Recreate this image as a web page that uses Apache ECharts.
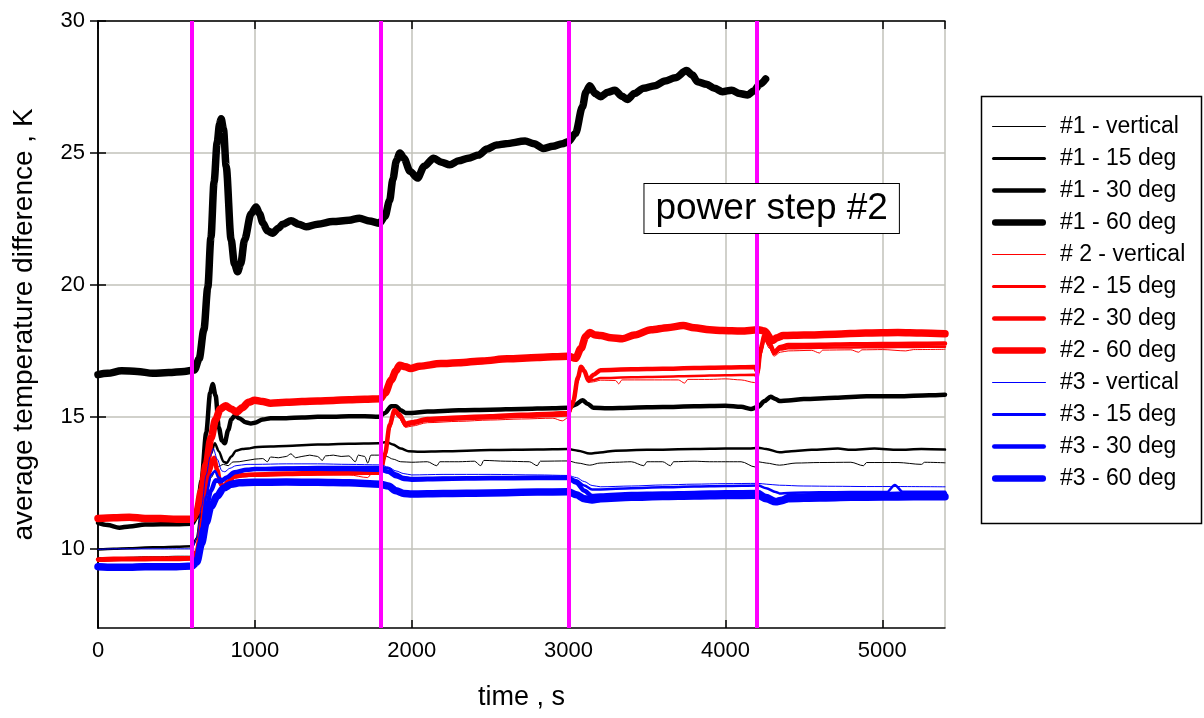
<!DOCTYPE html>
<html>
<head>
<meta charset="utf-8">
<title>average temperature difference</title>
<script src="https://cdn.jsdelivr.net/npm/echarts@6/dist/echarts.min.js"></script>
<style>
  html, body { margin: 0; padding: 0; background: #ffffff; }
  #chart { width: 1204px; height: 718px; }
</style>
</head>
<body>
<div id="chart"></div>
<script>
// time [s], temperature difference [K]
const STEP_TIMES = [600, 1800, 3000, 4200];
const Y_TICKS = [10, 15, 20, 25, 30];
const NOTE_TEXT = 'power step #2';
const NOTE_AT = [4295, 22.9];

const NAMES = [
  '#1 - vertical', '#1 - 15 deg', '#1 - 30 deg', '#1 - 60 deg',
  '# 2 - vertical', '#2 - 15 deg', '#2 - 30 deg', '#2 - 60 deg',
  '#3 - vertical', '#3 - 15 deg', '#3 - 30 deg', '#3 - 60 deg'
];

const S1_VERTICAL = [[0,9.67],[100,9.65],[200,9.68],[300,9.7],[400,9.7],[500,9.72],[600,9.72],[630,10.0],[660,11.0],[690,12.0],[720,12.7],[760,13.1],[800,13.2],[830,13.15],[860,13.29],[900,13.3],[950,13.35],[1000,13.4],[1050,13.42],[1080,13.3],[1100,13.48],[1150,13.45],[1200,13.5],[1230,13.6],[1260,13.45],[1300,13.5],[1350,13.55],[1400,13.5],[1430,13.35],[1450,13.52],[1500,13.55],[1550,13.5],[1600,13.52],[1640,13.3],[1660,13.55],[1700,13.5],[1720,13.25],[1740,13.55],[1790,13.55],[1840,13.5],[1880,13.4],[1930,13.3],[2000,13.28],[2100,13.3],[2160,13.15],[2180,13.3],[2300,13.3],[2400,13.32],[2440,13.15],[2460,13.35],[2600,13.32],[2750,13.3],[2800,13.15],[2820,13.32],[2998,13.33],[3060,13.25],[3135,13.17],[3200,13.25],[3300,13.28],[3400,13.3],[3480,13.15],[3500,13.3],[3600,13.3],[3650,13.15],[3670,13.3],[3800,13.32],[3900,13.3],[4000,13.3],[4100,13.3],[4190,13.1],[4209,13.3],[4260,13.25],[4345,13.17],[4450,13.25],[4600,13.27],[4800,13.28],[4880,13.15],[4900,13.27],[5100,13.27],[5250,13.2],[5270,13.28],[5400,13.26]];
const S1_15DEG = [[0,9.97],[100,10.0],[200,10.02],[300,10.05],[400,10.06],[500,10.08],[600,10.1],[630,10.4],[660,11.5],[690,12.8],[720,13.6],[745,14.0],[770,13.7],[800,13.3],[820,13.25],[850,13.5],[880,13.72],[920,13.78],[960,13.8],[1000,13.85],[1100,13.88],[1200,13.9],[1400,13.95],[1600,13.98],[1790,14.0],[1840,14.05],[1880,13.95],[1930,13.8],[1980,13.7],[2050,13.68],[2200,13.7],[2500,13.74],[2800,13.76],[2998,13.78],[3060,13.72],[3135,13.61],[3200,13.65],[3300,13.72],[3500,13.75],[3800,13.78],[4000,13.8],[4150,13.8],[4209,13.83],[4260,13.78],[4345,13.66],[4420,13.7],[4550,13.75],[4717,13.8],[4800,13.75],[4950,13.8],[5100,13.75],[5250,13.78],[5400,13.76]];
const S1_30DEG = [[0,10.98],[60,10.9],[136,10.8],[200,10.85],[300,10.92],[400,10.93],[500,10.93],[600,10.95],[630,11.2],[660,12.6],[690,14.4],[715,15.9],[731,16.25],[750,15.8],[770,14.6],[790,14.1],[808,14.0],[830,14.5],[850,14.9],[872,15.05],[900,14.95],[940,14.8],[975,14.75],[1000,14.78],[1050,14.9],[1100,14.95],[1200,14.95],[1300,14.98],[1400,15.0],[1500,15.0],[1600,15.02],[1700,15.02],[1790,15.0],[1830,15.15],[1870,15.4],[1900,15.4],[1930,15.25],[1960,15.15],[2000,15.15],[2100,15.2],[2300,15.25],[2500,15.27],[2700,15.3],[2900,15.33],[2998,15.35],[3040,15.45],[3089,15.63],[3120,15.5],[3158,15.35],[3250,15.33],[3400,15.35],[3600,15.37],[3800,15.4],[4000,15.42],[4100,15.38],[4163,15.3],[4209,15.38],[4250,15.6],[4288,15.76],[4320,15.68],[4345,15.6],[4400,15.62],[4500,15.68],[4700,15.72],[4900,15.78],[5100,15.78],[5300,15.82],[5400,15.84]];
const S1_60DEG = [[0,16.6],[60,16.65],[150,16.75],[250,16.72],[350,16.65],[450,16.68],[550,16.72],[615,16.78],[645,17.2],[675,18.3],[700,19.9],[720,21.8],[740,23.9],[760,25.4],[775,26.1],[785,26.3],[800,25.9],[817,24.5],[849,21.7],[870,20.8],[890,20.5],[910,20.8],[934,21.7],[976,22.7],[1008,22.95],[1030,22.7],[1051,22.35],[1080,22.05],[1113,21.96],[1150,22.15],[1178,22.3],[1231,22.43],[1280,22.3],[1327,22.2],[1400,22.3],[1497,22.4],[1600,22.45],[1667,22.53],[1730,22.42],[1795,22.34],[1830,22.6],[1859,23.2],[1880,24.0],[1902,24.7],[1925,25.0],[1950,24.8],[1990,24.3],[2037,24.05],[2080,24.5],[2140,24.8],[2190,24.65],[2242,24.55],[2300,24.7],[2360,24.8],[2426,24.92],[2480,25.15],[2541,25.3],[2600,25.35],[2723,25.45],[2780,25.35],[2838,25.17],[2900,25.25],[2960,25.35],[2998,25.42],[3044,25.74],[3089,26.75],[3110,27.3],[3135,27.55],[3170,27.25],[3204,27.13],[3250,27.3],[3295,27.38],[3340,27.15],[3375,27.03],[3420,27.25],[3478,27.45],[3550,27.55],[3615,27.73],[3680,27.85],[3752,28.12],[3790,27.95],[3821,27.7],[3880,27.6],[3930,27.45],[3981,27.32],[4040,27.38],[4090,27.25],[4142,27.2],[4180,27.35],[4220,27.6],[4256,27.8]];

const S2_VERTICAL = [[0,9.62],[100,9.63],[200,9.63],[300,9.64],[400,9.64],[500,9.65],[600,9.66],[630,9.95],[660,11.1],[690,12.4],[715,13.1],[740,13.4],[760,12.95],[780,12.45],[800,12.3],[830,12.5],[870,12.7],[920,12.72],[1000,12.75],[1200,12.78],[1400,12.8],[1600,12.8],[1720,12.7],[1740,12.82],[1800,12.82],[1830,13.4],[1860,14.5],[1890,15.15],[1920,14.95],[1960,14.6],[2000,14.65],[2100,14.78],[2300,14.83],[2500,14.88],[2700,14.92],[2900,14.95],[2960,14.85],[2998,14.97],[3030,15.4],[3060,16.3],[3080,16.8],[3100,16.65],[3125,16.3],[3160,16.33],[3204,16.39],[3300,16.38],[3320,16.25],[3340,16.4],[3500,16.4],[3700,16.4],[3740,16.28],[3760,16.42],[3900,16.42],[4000,16.44],[4100,16.4],[4186,16.3],[4205,16.4],[4225,17.3],[4250,17.9],[4280,17.6],[4310,17.3],[4350,17.45],[4400,17.5],[4550,17.52],[4600,17.42],[4620,17.53],[4800,17.54],[4850,17.45],[4870,17.54],[5000,17.55],[5150,17.5],[5200,17.55],[5400,17.56]];
const S2_15DEG = [[0,9.55],[100,9.56],[200,9.57],[300,9.57],[400,9.58],[500,9.58],[600,9.6],[630,9.85],[660,10.9],[690,12.1],[715,12.9],[740,13.3],[760,12.9],[780,12.4],[800,12.25],[830,12.45],[870,12.7],[920,12.75],[1000,12.78],[1200,12.8],[1400,12.82],[1600,12.83],[1800,12.85],[1830,13.5],[1860,14.6],[1890,15.2],[1920,15.0],[1960,14.65],[2000,14.72],[2100,14.85],[2300,14.9],[2500,14.95],[2700,15.0],[2900,15.03],[2998,15.05],[3030,15.5],[3060,16.4],[3080,16.85],[3100,16.7],[3125,16.35],[3160,16.4],[3204,16.47],[3400,16.5],[3600,16.52],[3800,16.55],[4000,16.58],[4186,16.6],[4205,16.45],[4225,17.4],[4250,17.95],[4280,17.7],[4310,17.38],[4350,17.55],[4400,17.6],[4600,17.62],[4800,17.63],[5000,17.64],[5200,17.65],[5400,17.66]];
const S2_30DEG = [[0,9.6],[100,9.62],[200,9.62],[300,9.63],[400,9.63],[500,9.64],[600,9.65],[630,9.9],[660,11.0],[690,12.3],[715,13.1],[740,13.45],[760,13.0],[780,12.5],[800,12.35],[830,12.55],[870,12.75],[920,12.8],[1000,12.82],[1200,12.85],[1400,12.87],[1600,12.88],[1800,12.9],[1830,13.6],[1860,14.7],[1890,15.25],[1920,15.1],[1960,14.75],[2000,14.8],[2100,14.92],[2300,14.98],[2500,15.02],[2700,15.08],[2900,15.12],[2998,15.15],[3030,15.6],[3060,16.5],[3080,16.9],[3100,16.75],[3125,16.4],[3160,16.6],[3204,16.77],[3400,16.8],[3600,16.82],[3800,16.85],[4000,16.87],[4186,16.89],[4205,16.7],[4225,17.6],[4250,18.1],[4280,17.8],[4310,17.45],[4350,17.65],[4400,17.72],[4600,17.73],[4800,17.75],[5000,17.76],[5200,17.77],[5400,17.78]];
const S2_60DEG = [[0,11.15],[100,11.18],[200,11.2],[300,11.15],[400,11.15],[500,11.12],[600,11.12],[630,11.4],[660,12.2],[690,13.2],[720,14.2],[750,14.9],[780,15.3],[813,15.42],[850,15.3],[883,15.18],[920,15.35],[960,15.55],[998,15.63],[1050,15.58],[1100,15.52],[1200,15.55],[1300,15.58],[1400,15.6],[1500,15.62],[1600,15.65],[1700,15.67],[1800,15.69],[1830,15.9],[1870,16.4],[1900,16.75],[1923,16.96],[1960,16.9],[1992,16.83],[2050,16.92],[2186,17.02],[2300,17.05],[2450,17.12],[2609,17.2],[2800,17.25],[2998,17.3],[3044,17.22],[3080,17.6],[3110,18.05],[3135,18.2],[3170,18.1],[3204,18.08],[3270,18.0],[3343,17.96],[3420,18.1],[3526,18.3],[3630,18.38],[3731,18.46],[3800,18.38],[3900,18.3],[3981,18.27],[4100,18.25],[4209,18.3],[4250,18.25],[4299,17.89],[4330,18.0],[4368,18.08],[4500,18.1],[4700,18.13],[4893,18.18],[5100,18.2],[5250,18.18],[5400,18.15]];

const S3_VERTICAL = [[0,9.98],[100,10.0],[200,10.0],[300,10.0],[400,10.0],[500,10.0],[600,10.0],[630,10.4],[660,11.6],[690,12.8],[715,13.5],[735,13.8],[760,13.4],[790,12.95],[808,12.92],[840,13.05],[880,13.15],[950,13.2],[1000,13.2],[1200,13.22],[1400,13.22],[1600,13.2],[1800,13.18],[1850,13.1],[1900,12.95],[1950,12.85],[2000,12.8],[2200,12.82],[2500,12.82],[2800,12.8],[2998,12.78],[3050,12.7],[3100,12.55],[3150,12.4],[3204,12.35],[3400,12.38],[3600,12.42],[3800,12.45],[4000,12.47],[4209,12.48],[4260,12.45],[4345,12.41],[4500,12.38],[4700,12.37],[4900,12.36],[5100,12.36],[5400,12.35]];
const S3_15DEG = [[0,9.4],[100,9.38],[200,9.38],[300,9.4],[400,9.4],[500,9.4],[600,9.42],[630,9.7],[660,10.8],[690,12.0],[720,12.8],[745,12.95],[770,12.7],[800,12.6],[840,12.75],[880,12.9],[950,13.0],[1000,13.05],[1200,13.08],[1400,13.1],[1600,13.1],[1800,13.1],[1850,13.05],[1900,12.85],[1950,12.72],[2000,12.68],[2200,12.7],[2500,12.72],[2800,12.73],[2998,12.73],[3050,12.6],[3100,12.4],[3150,12.25],[3204,12.25],[3400,12.3],[3600,12.33],[3800,12.36],[4000,12.38],[4209,12.4],[4260,12.3],[4320,12.15],[4345,12.1],[4400,12.12],[4600,12.14],[4800,12.15],[5030,12.15],[5080,12.42],[5130,12.16],[5400,12.16]];
const S3_30DEG = [[0,9.35],[100,9.33],[200,9.33],[300,9.35],[400,9.35],[500,9.35],[600,9.38],[630,9.6],[660,10.5],[690,11.5],[720,12.2],[750,12.6],[780,12.55],[820,12.7],[870,12.9],[950,13.0],[1000,13.02],[1200,13.03],[1400,13.03],[1600,13.02],[1800,13.0],[1850,12.92],[1900,12.75],[1950,12.65],[2000,12.62],[2200,12.65],[2500,12.67],[2800,12.68],[2998,12.68],[3050,12.5],[3100,12.2],[3150,12.0],[3204,12.02],[3400,12.08],[3600,12.1],[3800,12.12],[4000,12.14],[4209,12.15],[4260,12.0],[4320,11.85],[4360,11.9],[4400,12.0],[4600,12.05],[4800,12.07],[5000,12.08],[5200,12.1],[5400,12.1]];
const S3_60DEG = [[0,9.32],[100,9.3],[200,9.3],[300,9.32],[400,9.32],[500,9.32],[600,9.35],[630,9.5],[660,10.2],[690,11.0],[720,11.6],[760,12.0],[800,12.3],[850,12.45],[900,12.5],[1000,12.52],[1200,12.53],[1400,12.52],[1600,12.5],[1800,12.45],[1850,12.38],[1900,12.2],[1950,12.1],[2000,12.08],[2200,12.1],[2500,12.12],[2800,12.15],[2998,12.16],[3050,12.05],[3100,11.9],[3150,11.85],[3204,11.9],[3400,11.95],[3600,11.98],[3800,12.0],[4000,12.02],[4209,12.03],[4260,11.9],[4320,11.78],[4360,11.82],[4400,11.9],[4600,11.93],[4800,11.95],[5000,11.96],[5200,11.97],[5400,11.97]];

const VALUES = [
  S1_VERTICAL, S1_15DEG, S1_30DEG, S1_60DEG,
  S2_VERTICAL, S2_15DEG, S2_30DEG, S2_60DEG,
  S3_VERTICAL, S3_15DEG, S3_30DEG, S3_60DEG
];

// styling: one colour per sensor group, line weight grows with inclination
const GROUP_COLORS = ['#000000', '#ff0000', '#0000ff'];
const WEIGHTS = [1, 2.5, 4.5, 7.5];
const LEGEND_WEIGHTS = [1.2, 3, 4.5, 6.5];
const FONT = '"Liberation Sans", Arial, Helvetica, sans-serif';

const chart = echarts.init(document.getElementById('chart'), null, { renderer: 'canvas' });

const dataSeries = NAMES.map(function (name, i) {
  const color = GROUP_COLORS[Math.floor(i / 4)];
  const width = WEIGHTS[i % 4];
  return {
    name: name,
    type: 'line',
    xAxisIndex: 0,
    yAxisIndex: 0,
    data: VALUES[i],
    showSymbol: false,
    symbol: 'none',
    smooth: 0.3,
    smoothMonotone: 'x',
    animation: false,
    lineStyle: { color: color, width: width, cap: 'round', join: 'round' },
    itemStyle: { color: color },
    emphasis: { disabled: true }
  };
});

// legend key: a bar as long as the key and as thick as the series line
function legendKey(weight) {
  const r = weight / 2;
  return 'path://M' + r + ',0H' + (54 - r) + 'A' + r + ',' + r + ',0,0,1,' + (54 - r) + ',' + weight +
    'H' + r + 'A' + r + ',' + r + ',0,0,1,' + r + ',0Z';
}

// power step markers and the annotation box
const helperSeries = {
  name: 'steps',
  type: 'line',
  xAxisIndex: 0,
  yAxisIndex: 0,
  data: [],
  silent: true,
  animation: false,
  markLine: {
    z: 5,
    silent: true,
    symbol: ['none', 'none'],
    label: { show: false },
    lineStyle: { color: '#ff00ff', width: 4, type: 'solid' },
    emphasis: { disabled: true },
    data: STEP_TIMES.map(function (t) { return { xAxis: t }; })
  },
  markPoint: {
    z: 8,
    silent: true,
    symbol: 'rect',
    symbolSize: 1,
    itemStyle: { color: 'rgba(0,0,0,0)' },
    label: {
      show: true,
      position: 'inside',
      formatter: NOTE_TEXT,
      color: '#000000',
      fontSize: 37,
      lineHeight: 37,
      fontFamily: FONT,
      backgroundColor: '#ffffff',
      borderColor: '#000000',
      borderWidth: 1,
      padding: [6, 11, 6, 11]
    },
    data: [{ coord: NOTE_AT }]
  }
};

const axisLineStyle = { lineStyle: { color: '#000000', width: 1.5 } };
const tickStyle = { show: true, inside: true, length: 8, lineStyle: { color: '#000000', width: 1.5 } };
const plainNumber = function (v) { return String(v); };

const option = {
  backgroundColor: '#ffffff',
  animation: false,
  grid: { left: 98, top: 21, width: 847, height: 607, containLabel: false },
  legend: {
    orient: 'vertical',
    left: 992,
    top: 115,
    padding: 0,
    itemWidth: 54,
    itemHeight: 14,
    itemGap: 9,
    symbolKeepAspect: true,
    selectedMode: false,
    textStyle: { fontSize: 23, lineHeight: 22, fontFamily: FONT, color: '#000000', padding: [0, 0, 0, 9] },
    data: NAMES.map(function (name, i) {
      return {
        name: name,
        icon: legendKey(LEGEND_WEIGHTS[i % 4]),
        itemStyle: { color: GROUP_COLORS[Math.floor(i / 4)], borderWidth: 0 }
      };
    })
  },
  graphic: [{
    type: 'rect',
    left: 979,
    top: 94,
    shape: { width: 220, height: 427 },
    style: { fill: 'none', stroke: '#000000', lineWidth: 1.5 },
    silent: true,
    z: 0
  }],
  xAxis: [{
    type: 'value',
    position: 'bottom',
    min: 0,
    max: 5400,
    interval: 1000,
    name: 'time , s',
    nameLocation: 'middle',
    nameGap: 56,
    nameTextStyle: { fontSize: 27, fontFamily: FONT, color: '#000000' },
    axisLine: axisLineStyle,
    axisTick: tickStyle,
    axisLabel: { fontSize: 22, fontFamily: FONT, color: '#000000', margin: 12, showMaxLabel: false, formatter: plainNumber },
    splitLine: { show: true, lineStyle: { color: '#c2c2ba', width: 1.5 } }
  }, {
    type: 'value',
    position: 'top',
    min: 0,
    max: 5400,
    interval: 1000,
    axisLine: axisLineStyle,
    axisTick: tickStyle,
    axisLabel: { show: false },
    splitLine: { show: false }
  }],
  yAxis: [{
    type: 'value',
    position: 'left',
    min: 7,
    max: 30,
    name: 'average temperature difference , K',
    nameLocation: 'middle',
    nameGap: 60,
    nameTextStyle: { fontSize: 28, fontFamily: FONT, color: '#000000' },
    axisLine: axisLineStyle,
    axisTick: Object.assign({}, tickStyle, { customValues: Y_TICKS }),
    axisLabel: { fontSize: 22, fontFamily: FONT, color: '#000000', margin: 13, customValues: Y_TICKS, formatter: plainNumber },
    splitLine: { show: true, lineStyle: { color: '#c2c2ba', width: 1.5 } }
  }, {
    type: 'value',
    position: 'right',
    min: 7,
    max: 30,
    axisLine: axisLineStyle,
    axisTick: Object.assign({}, tickStyle, { customValues: Y_TICKS }),
    axisLabel: { show: false },
    splitLine: { show: false }
  }],
  series: dataSeries.concat([helperSeries])
};

chart.setOption(option);
</script>
</body>
</html>
